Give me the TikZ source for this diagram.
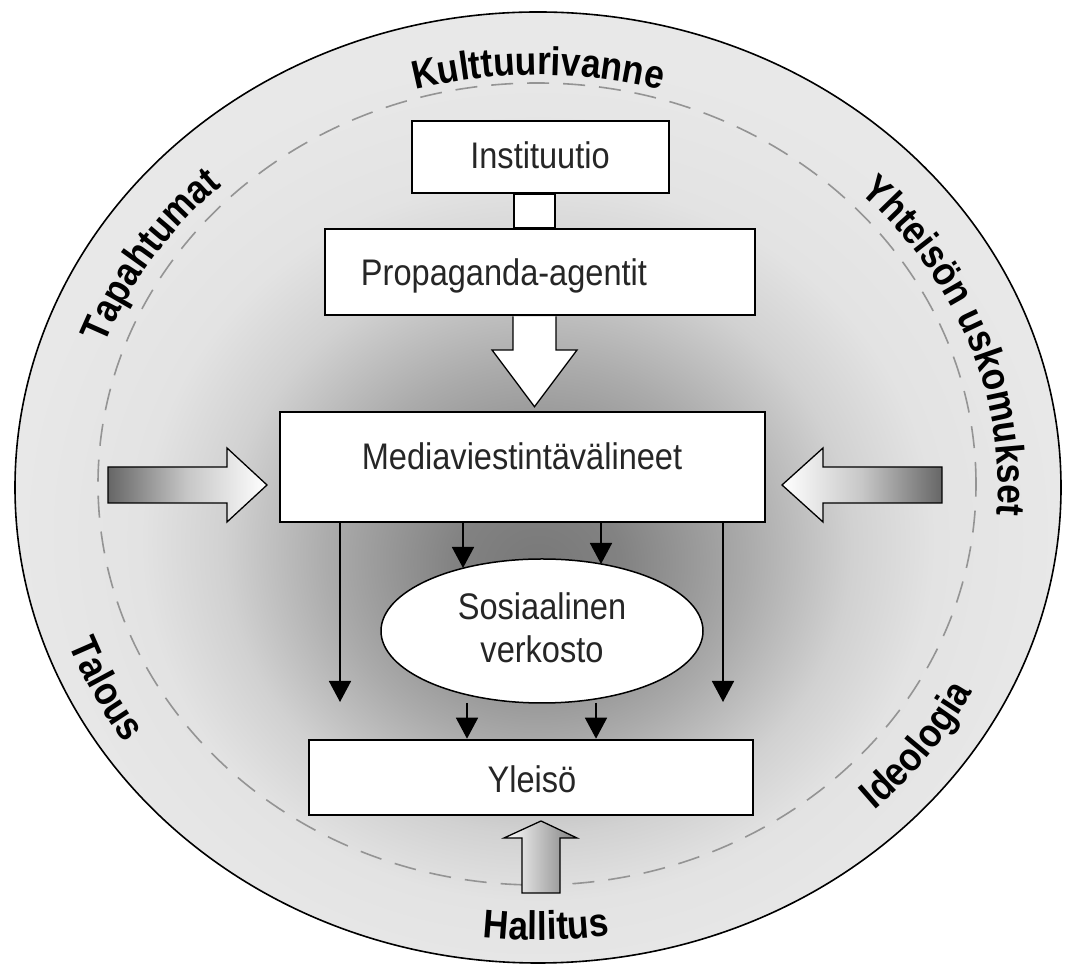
\documentclass[tikz,border=0pt]{standalone}
\usepackage{fontspec}
\setmainfont{Liberation Sans}
\newfontfamily\boxfont[FakeStretch=0.88]{Liberation Sans}
\newfontfamily\arcfont[FakeStretch=0.88]{Liberation Sans}
\usetikzlibrary{shapes.geometric,arrows.meta,decorations.text,calc}
\pgfdeclareradialshading{bgshade}{\pgfpoint{0bp}{-4.5bp}}{color(0bp)=(black!53); color(4bp)=(black!49); color(10bp)=(black!33); color(15bp)=(black!18); color(19bp)=(black!11); color(25bp)=(black!9); color(50bp)=(black!9)}
\pgfdeclarelayer{back}
\pgfsetlayers{back,main}
\begin{document}
\begin{tikzpicture}[x=1pt,y=1pt,
  box/.style={draw=black, line width=2.6pt, fill=white, inner sep=0pt},
  lbl/.style={font=\boxfont\fontsize{37}{43}\selectfont, inner sep=0pt, anchor=base, text=black!85},
  flowarrow/.style={line width=1.6pt, -{Triangle[width=22pt,length=21pt]}},
  blockarrow/.style={draw=black, line width=1.3pt}
]
\useasboundingbox (0,0) rectangle (1067,965);
\coordinate (O) at (538,477.5);

% background ring and shading
\begin{pgfonlayer}{back}
\shade[shading=bgshade] (O) ellipse[x radius=523pt, y radius=475.5pt];
\draw[line width=1.6pt] (O) ellipse[x radius=523pt, y radius=475.5pt];
\draw[dash pattern=on 22pt off 14pt, draw=black!42, line width=1.6pt] (537,481) ellipse[x radius=439pt, y radius=401pt];
\end{pgfonlayer}

% boxes
\node[box, minimum width=257pt, minimum height=72pt] (inst) at (540.5,808) {};
\node[box, minimum width=430pt, minimum height=86pt] (prop) at (540,693) {};
\node[box, minimum width=485pt, minimum height=110pt] (media) at (522.5,498) {};
\node[box, ellipse, line width=1.5pt, minimum width=322pt, minimum height=144pt] (sos) at (542,334) {};
\node[box, minimum width=444pt, minimum height=75pt] (yle) at (531,187.5) {};

% texts
\node[lbl] (tinst) at (540,796) {Instituutio};
\node[lbl] (tprop) at (504,679) {Propaganda-agentit};
\node[lbl] (tmedia) at (522,495) {Mediaviestintävälineet};
\node[lbl] (tsos1) at (542,345) {Sosiaalinen};
\node[lbl] (tsos2) at (542,302) {verkosto};
\node[lbl] (tyle) at (532,172) {Yleisö};

% block arrows
\coordinate (spine) at (534.5,0);
\begin{pgfonlayer}{back}
\filldraw[fill=white, blockarrow] ($(spine |- inst.south)+(-20.5,0)$) rectangle ($(spine |- prop.north)+(20.5,0)$);
\filldraw[fill=white, blockarrow]
  ($(spine |- prop.south)+(-21.5,0)$) -- (513,615) -- (492,615) -- ($(spine |- media.north)+(0,4)$)
  -- (577,615) -- (556,615) -- ($(spine |- prop.south)+(21.5,0)$);
\shadedraw[left color=black!60, right color=white, middle color=black!22, blockarrow]
  (108,462) -- (108,498) -- (227,498) -- (227,517) -- (267,480) -- (227,443) -- (227,462) -- cycle;
\shadedraw[left color=white, right color=black!60, middle color=black!22, blockarrow]
  (942,462) -- (942,498) -- (823,498) -- (823,517) -- (782,480) -- (823,443) -- (823,462) -- cycle;
\shadedraw[left color=white, right color=black!50, blockarrow]
  (522,72) -- (522,127) -- (504,127) -- (541,144) -- (577,127) -- (560,127) -- (560,72) -- cycle;
\end{pgfonlayer}

% thin arrows
\coordinate (c1) at (463,397);
\coordinate (c2) at (601,401);
\coordinate (l1) at (340,263);
\coordinate (l2) at (723,263);
\coordinate (b1) at (467,262);
\coordinate (b2) at (596,262);
\draw[flowarrow] (media.south -| c1) -- (c1);
\draw[flowarrow] (media.south -| c2) -- (c2);
\draw[flowarrow] (media.south -| l1) -- (l1);
\draw[flowarrow] (media.south -| l2) -- (l2);
\draw[flowarrow] (b1) -- (b1 |- yle.north);
\draw[flowarrow] (b2) -- (b2 |- yle.north);

% curved ring labels
\path[decorate, decoration={text along path, text align=center,
  text={|\arcfont\bfseries\fontsize{40}{40}\selectfont|Kulttuurivanne}}]
  ($(O)+(150:460pt and 412.5pt)$) arc[start angle=150, end angle=30, x radius=460pt, y radius=412.5pt];
\path[decorate, decoration={text along path, text align=center,
  text={|\arcfont\bfseries\fontsize{40}{40}\selectfont|Tapahtumat}}]
  ($(O)+(198:462pt and 414pt)$) arc[start angle=198, end angle=98, x radius=462pt, y radius=414pt];
\path[decorate, decoration={text along path, text align=center,
  text={|\arcfont\bfseries\fontsize{40}{40}\selectfont|Yhteisön uskomukset}}]
  ($(O)+(70:460pt and 412.5pt)$) arc[start angle=70, end angle=-30, x radius=460pt, y radius=412.5pt];
\path[decorate, decoration={text along path, text align=center,
  text={|\arcfont\bfseries\fontsize{40}{40}\selectfont|Talous}}]
  ($(O)+(156:500pt and 452.5pt)$) arc[start angle=156, end angle=256, x radius=500pt, y radius=452.5pt];
\path[decorate, decoration={text along path, text align=center,
  text={|\arcfont\bfseries\fontsize{40}{40}\selectfont|Hallitus}}]
  ($(O)+(221:500pt and 452.5pt)$) arc[start angle=221, end angle=321, x radius=500pt, y radius=452.5pt];
\path[decorate, decoration={text along path, text align=center,
  text={|\arcfont\bfseries\fontsize{40}{40}\selectfont|Ideologia}}]
  ($(O)+(274.5:490pt and 444pt)$) arc[start angle=274.5, end angle=374.5, x radius=490pt, y radius=444pt];
\end{tikzpicture}
\end{document}
